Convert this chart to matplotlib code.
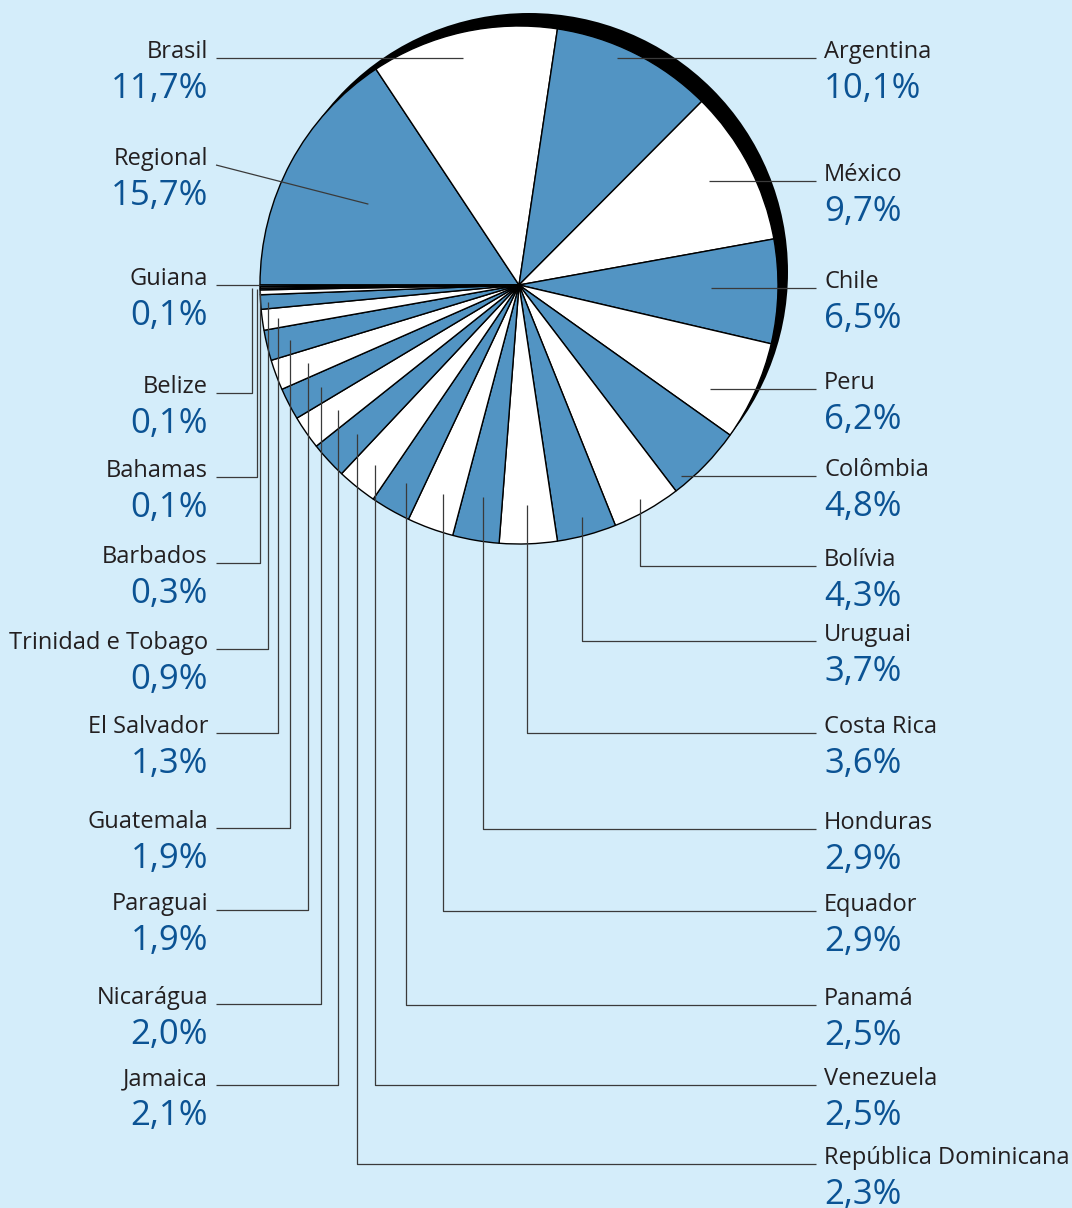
import matplotlib
matplotlib.use("Agg")
import numpy as np
import matplotlib.pyplot as plt
from matplotlib.patches import Circle

W, H = 1072, 1208
DPI = 100

BG = "#d4edfa"
BLUE = "#5294c3"
PCT_BLUE = "#0b5394"
TEXT = "#231f20"
LINE = "#3a3a3a"
FONT = "Open Sans"

# slices, clockwise from 9 o'clock
countries = ["Regional", "Brasil", "Argentina", "México", "Chile", "Peru",
             "Colômbia", "Bolívia", "Uruguai", "Costa Rica", "Honduras",
             "Equador", "Panamá", "Venezuela", "República Dominicana",
             "Jamaica", "Nicarágua", "Paraguai", "Guatemala", "El Salvador",
             "Trinidad e Tobago", "Barbados", "Bahamas", "Belize", "Guiana"]
shares = [15.7, 11.7, 10.1, 9.7, 6.5, 6.2, 4.8, 4.3, 3.7, 3.6, 2.9, 2.9,
          2.5, 2.5, 2.3, 2.1, 2.0, 1.9, 1.9, 1.3, 0.9, 0.3, 0.1, 0.1, 0.1]

# label layout: side, leader baseline y (px from top), anchor radius fraction, leader kind
label_side = ["L", "L", "R", "R", "R", "R", "R", "R", "R", "R", "R", "R",
              "R", "R", "R", "L", "L", "L", "L", "L", "L", "L", "L", "L", "L"]
label_y = [165, 58, 58, 181, 288, 389, 476, 566, 641, 733, 829, 911,
           1005, 1085, 1164, 1085, 1004, 910, 828, 733, 649, 563, 477, 393, 285]
anchor_r = [0.66, 1.0, 0.84, 0.83, 0.74, 0.81, 0.87, 0.95, 0.93, 0.85, 0.83, 0.86,
            0.88, 0.89, 0.85, 0.85, 0.86, 0.87, 0.91, 0.94, 0.97, 1.0, 1.01, 1.03, 1.0]
leader = ["d", "h", "h", "h", "h", "h", "h", "v", "v", "v", "v", "v",
          "v", "v", "v", "v", "v", "v", "v", "v", "v", "v", "v", "v", "h"]

CX, CY, R = 519, 285, 259
LEFT_TXT, RIGHT_TXT = 208, 824
LEFT_END, RIGHT_END = 216, 816


def Y(py):
    return H - py


fig = plt.figure(figsize=(W / DPI, H / DPI), dpi=DPI, facecolor=BG)
ax = fig.add_axes([0, 0, 1, 1])
ax.set_facecolor(BG)

# black drop shadow behind the pie
ax.add_patch(Circle((CX + 10, Y(CY) + 13), R, facecolor="black",
                    edgecolor="none", zorder=1))

colors = [BLUE if i % 2 == 0 else "white" for i in range(len(shares))]
wedges, _ = ax.pie(shares, colors=colors, startangle=180, counterclock=False,
                   center=(CX, Y(CY)), radius=R, frame=True,
                   wedgeprops=dict(edgecolor="black", linewidth=1.0, zorder=2))

for i, w in enumerate(wedges):
    mid = np.deg2rad((w.theta1 + w.theta2) / 2)
    px = CX + anchor_r[i] * R * np.cos(mid)
    py = CY - anchor_r[i] * R * np.sin(mid)
    ly = label_y[i]
    left = label_side[i] == "L"
    end = LEFT_END if left else RIGHT_END
    if leader[i] == "h":
        xs, ys = [px, end], [ly, ly]
    elif leader[i] == "v":
        xs, ys = [px, px, end], [py, ly, ly]
    else:
        xs, ys = [px, end], [py, ly]
    ax.plot(xs, [Y(v) for v in ys], color=LINE, lw=0.9, zorder=3,
            solid_capstyle="butt")

    tx = LEFT_TXT if left else RIGHT_TXT
    ha = "right" if left else "left"
    ax.text(tx, Y(ly), countries[i], ha=ha, va="baseline", fontsize=17,
            color=TEXT, family=FONT)
    pct = "{:.1f}%".format(shares[i]).replace(".", ",")
    ax.text(tx, Y(ly + 40), pct, ha=ha, va="baseline", fontsize=25,
            color=PCT_BLUE, family=FONT)

ax.set_aspect("auto")
ax.set_xlim(0, W)
ax.set_ylim(0, H)
ax.axis("off")

fig.savefig("out.png", dpi=DPI, facecolor=BG)
